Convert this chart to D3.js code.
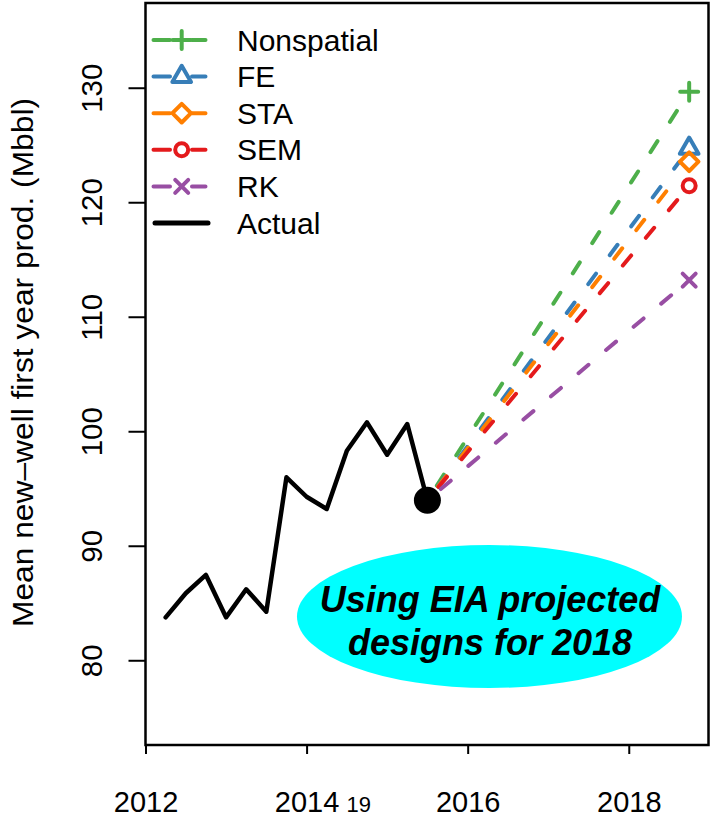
<!DOCTYPE html>
<html>
<head>
<meta charset="utf-8">
<script src="https://cdn.jsdelivr.net/npm/d3@7"></script>
<style>
  html, body { margin: 0; padding: 0; background: #fff; }
  svg { display: block; }
  text { font-family: "Liberation Sans", Arial, Helvetica, sans-serif; fill: #000; }
</style>
</head>
<body>
<svg id="chart" width="711" height="822"></svg>
<script>
// Quarterly observed mean first-year production of new wells
const actualYears = [2012.25, 2012.5, 2012.75, 2013.0, 2013.25, 2013.5, 2013.75,
                     2014.0, 2014.25, 2014.5, 2014.75, 2015.0, 2015.25, 2015.5];
const actualValues = [83.75, 85.85, 87.45, 83.75, 86.2, 84.24, 95.98,
                      94.28, 93.21, 98.3, 100.78, 97.95, 100.63, 93.97];

// Model projections for 2018 designs
const models = ["Nonspatial", "FE", "STA", "SEM", "RK"];
const modelColors = ["#4DAF4A", "#377EB8", "#FF7F00", "#E41A1C", "#984EA3"];
const modelShapes = ["plus", "triangle", "diamond", "circle", "cross"];
const forecastFrom = [2015.5, 93.97];
const forecastYear = 2018.75;
const forecastValues = [129.65, 124.7, 123.54, 121.44, 113.2];

const xTicks = [2012, 2014, 2016, 2018];
const yTicks = [80, 90, 100, 110, 120, 130];
const yTitle = "Mean new\u2013well first year prod. (Mbbl)";
const noteLines = ["Using EIA projected", "designs for 2018"];

const svg = d3.select("#chart");

const x = d3.scaleLinear().domain([2012, 2018.99]).range([145.5, 708.5]);
const y = d3.scaleLinear().domain([72.6, 137.4]).range([745, 3]);

// Axes
const xAxis = svg.append("g")
  .attr("transform", `translate(0,${y.range()[0]})`)
  .call(d3.axisBottom(x).tickValues(xTicks).tickSize(9).tickFormat(d3.format("d")));
xAxis.select(".domain").remove();
xAxis.selectAll(".tick line").attr("stroke", "#000").attr("stroke-width", 2);
xAxis.selectAll(".tick text")
  .attr("y", 67).attr("dy", null)
  .attr("font-size", 29).attr("font-family", "Liberation Sans, Arial, sans-serif");

// small "19" beside the 2014 label
svg.append("text")
  .attr("x", x(2014) + 40).attr("y", 811.5)
  .attr("font-size", 22)
  .text("19");

const yAxis = svg.append("g")
  .attr("transform", `translate(${x.range()[0]},0)`)
  .call(d3.axisLeft(y).tickValues(yTicks).tickSize(17).tickFormat(d3.format("d")));
yAxis.select(".domain").remove();
yAxis.selectAll(".tick line").attr("stroke", "#000").attr("stroke-width", 2);
yAxis.selectAll(".tick text")
  .attr("x", 0).attr("y", -43.5).attr("dy", null)
  .attr("transform", "rotate(-90)")
  .attr("text-anchor", "middle")
  .attr("font-size", 29.5).attr("font-family", "Liberation Sans, Arial, sans-serif");

// y axis title
svg.append("text")
  .attr("transform", "translate(33,362.5) rotate(-90)")
  .attr("text-anchor", "middle")
  .attr("font-size", 29)
  .attr("textLength", 529)
  .attr("lengthAdjust", "spacingAndGlyphs")
  .text(yTitle);

// plot frame
svg.append("rect")
  .attr("x", x.range()[0]).attr("y", y.range()[1])
  .attr("width", x.range()[1] - x.range()[0])
  .attr("height", y.range()[0] - y.range()[1])
  .attr("fill", "none").attr("stroke", "#000").attr("stroke-width", 2.5);

// annotation ellipse
const note = svg.append("g");
note.append("ellipse")
  .attr("cx", 489.5).attr("cy", 616.5).attr("rx", 192.5).attr("ry", 71.5)
  .attr("fill", "#00FFFF");
note.selectAll("text").data(noteLines).join("text")
  .attr("x", 490).attr("y", (d, i) => 612 + i * 43)
  .attr("text-anchor", "middle")
  .attr("font-size", 36).attr("font-weight", "bold").attr("font-style", "italic")
  .text(d => d);

// observed series
svg.append("path")
  .datum(actualYears.map((t, i) => [t, actualValues[i]]))
  .attr("fill", "none").attr("stroke", "#000").attr("stroke-width", 4.5)
  .attr("stroke-linejoin", "round").attr("stroke-linecap", "round")
  .attr("d", d3.line().x(d => x(d[0])).y(d => y(d[1])));

svg.append("circle")
  .attr("cx", x(forecastFrom[0])).attr("cy", y(forecastFrom[1]))
  .attr("r", 13.5).attr("fill", "#000");

// marker glyphs
function marker(g, shape, cx, cy, color) {
  const s = { fill: "none", stroke: color, "stroke-width": 4,
              "stroke-linecap": "round", "stroke-linejoin": "round" };
  let el;
  if (shape === "plus") {
    el = g.append("path").attr("d", `M${cx - 9},${cy}h18M${cx},${cy - 9}v18`);
  } else if (shape === "cross") {
    const h = 6.5;
    el = g.append("path").attr("d",
      `M${cx - h},${cy - h}L${cx + h},${cy + h}M${cx + h},${cy - h}L${cx - h},${cy + h}`);
  } else if (shape === "triangle") {
    const r = 10.8;
    el = g.append("path").attr("d",
      `M${cx},${cy - r}L${cx + r * 0.866},${cy + r / 2}L${cx - r * 0.866},${cy + r / 2}Z`);
  } else if (shape === "diamond") {
    const h = 9.3;
    el = g.append("path").attr("d",
      `M${cx},${cy - h}L${cx + h},${cy}L${cx},${cy + h}L${cx - h},${cy}Z`);
  } else {
    el = g.append("circle").attr("cx", cx).attr("cy", cy).attr("r", 6.5);
  }
  Object.entries(s).forEach(([k, v]) => el.attr(k, v));
}

// projection lines (dashed, with a gap around each end point)
const gap = 17.5;
const proj = svg.append("g");
models.forEach((m, i) => {
  const x0 = x(forecastFrom[0]), y0 = y(forecastFrom[1]);
  const x1 = x(forecastYear), y1 = y(forecastValues[i]);
  const len = Math.hypot(x1 - x0, y1 - y0);
  const ux = (x1 - x0) / len, uy = (y1 - y0) / len;
  proj.append("line")
    .attr("x1", x0 + ux * gap).attr("y1", y0 + uy * gap)
    .attr("x2", x1 - ux * gap).attr("y2", y1 - uy * gap)
    .attr("stroke", modelColors[i]).attr("stroke-width", 4)
    .attr("stroke-linecap", "round")
    .attr("stroke-dasharray", "13 23");
});
models.forEach((m, i) => {
  marker(proj, modelShapes[i], x(forecastYear), y(forecastValues[i]), modelColors[i]);
});

// legend
const legend = svg.append("g");
const lx0 = 153.5, lxm = 181.7, lx1 = 205.5, ly0 = 40, ldy = 36.6;
models.forEach((m, i) => {
  const cy = ly0 + i * ldy;
  legend.append("path")
    .attr("d", `M${lx0},${cy}H${lxm - 11.7}M${lxm + 10.3},${cy}H${lx1}`)
    .attr("stroke", modelColors[i]).attr("stroke-width", 4)
    .attr("stroke-linecap", "round").attr("fill", "none");
  marker(legend, modelShapes[i], lxm, cy, modelColors[i]);
  legend.append("text").attr("x", 237).attr("y", cy + 10.5)
    .attr("font-size", 30).text(m);
});
{
  const cy = ly0 + models.length * ldy;
  legend.append("line")
    .attr("x1", 155).attr("x2", 208).attr("y1", cy).attr("y2", cy)
    .attr("stroke", "#000").attr("stroke-width", 5).attr("stroke-linecap", "round");
  legend.append("text").attr("x", 237).attr("y", cy + 10.5)
    .attr("font-size", 30).text("Actual");
}
</script>
</body>
</html>
